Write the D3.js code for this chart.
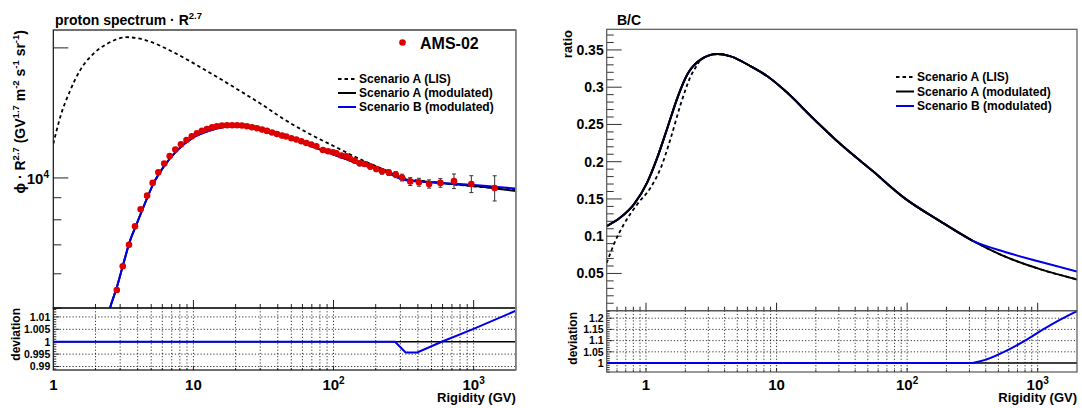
<!DOCTYPE html>
<html>
<head>
<meta charset="utf-8">
<script src="https://cdn.jsdelivr.net/npm/d3@7"></script>
<style>
  body { margin: 0; background: #fff; }
  text { font-family: "Liberation Sans", Arial, Helvetica, sans-serif; font-weight: bold; fill: #000; }
</style>
</head>
<body>
<div id="vis-container"></div>
<script>
const width = 1082,
    height = 408;

// ---- proton spectrum (left) ----
const lisR    = [1, 1.12, 1.32, 1.55, 1.93, 2.41, 3.34, 4.64, 7.2, 11.8, 20.4, 31.6, 43.9, 67.6, 104.8, 153, 226, 316, 515, 2000];
const lisFlux = [11990, 13820, 15930, 17730, 19370, 20420, 21170, 20800, 19540, 17870, 16070, 14710, 13700, 12640, 11770, 11070, 10480, 10000, 9780, 9400];

const modR     = [2.3, 2.54, 2.84, 3.16, 3.53, 3.94, 4.64, 5.17, 6.1, 7.62, 9.99, 13.1, 19.3, 28.4, 43.9, 67.6, 104.8, 153, 226, 316, 515, 938, 2000];
const modAFlux = [4400, 5000, 5580, 6320, 7160, 7830, 8930, 9690, 10590, 11570, 12420, 12880, 13170, 13090, 12530, 11880, 11270, 10770, 10400, 9950, 9770, 9600, 9330];
const modBFlux = [4400, 5000, 5580, 6320, 7160, 7830, 8930, 9690, 10590, 11570, 12420, 12880, 13170, 13090, 12530, 11880, 11270, 10770, 10400, 9905, 9760, 9640, 9450];

const amsR = [2.84, 3.13, 3.47, 3.83, 4.2, 4.67, 5.12, 5.62, 6.19, 6.77, 7.43, 8.15, 8.92, 9.74, 10.6, 11.5, 12.5, 13.6, 14.7, 16.0,
  17.4, 18.9, 20.5, 22.2, 24.1, 26.2, 28.4, 30.9, 33.5, 36.4, 39.5, 42.9, 46.0, 50.0, 54.3, 58.9, 64.0, 69.4, 75.4, 84.1,
  91.4, 99.2, 104.7, 113.7, 123.4, 130.5, 141.6, 153.7, 167, 183, 202, 222, 248, 278, 308, 353, 407, 481, 579, 724, 963, 1413];
const amsFlux = [5505, 6245, 7000, 7730, 8460, 9100, 9740, 10310, 10800, 11240, 11630, 11970, 12240, 12490, 12690, 12850, 12980, 13090, 13170, 13220,
  13240, 13240, 13240, 13220, 13170, 13100, 13030, 12940, 12850, 12740, 12640, 12530, 12470, 12360, 12270, 12160, 12050, 11950, 11840, 11610,
  11530, 11470, 11410, 11270, 11230, 11110, 10970, 10810, 10770, 10630, 10490, 10360, 10290, 10180, 10020, 9810, 9775, 9685, 9740, 9830, 9685, 9480];
const amsRelErr = [0.005, 0.005, 0.005, 0.005, 0.005, 0.005, 0.005, 0.005, 0.005, 0.005, 0.005, 0.005, 0.005, 0.005, 0.005, 0.005, 0.005, 0.005, 0.005, 0.005,
  0.005, 0.005, 0.005, 0.005, 0.005, 0.005, 0.006, 0.006, 0.006, 0.006, 0.007, 0.007, 0.007, 0.007, 0.008, 0.008, 0.008, 0.008, 0.009, 0.01,
  0.01, 0.01, 0.011, 0.011, 0.011, 0.012, 0.012, 0.013, 0.013, 0.014, 0.014, 0.015, 0.015, 0.016, 0.018, 0.021, 0.021, 0.022, 0.023, 0.039, 0.045, 0.067];

const pDevR = [1, 275, 327, 396, 592, 1000, 2000];
const pDevB = [1, 1, 0.9957, 0.9957, 1, 1.0052, 1.0125];

// ---- B/C ratio (right) ----
const bcLisR = [0.5, 0.569, 0.678, 0.858, 1.087, 1.30, 1.55, 1.84, 2.2, 2.47, 2.62, 3.52, 4.45, 6.34, 8.5, 12.1, 18.3, 31.0, 54.2, 97.8, 176, 316, 570, 1026, 2000];
const bcLis  = [0.064, 0.0896, 0.1163, 0.143, 0.1654, 0.192, 0.2322, 0.2767, 0.3147, 0.330, 0.3369, 0.3445, 0.3414, 0.328, 0.3147, 0.2924, 0.2612, 0.2233, 0.1877, 0.1497, 0.1209, 0.0941, 0.0722, 0.0561, 0.042];
const bcR  = [0.5, 0.64, 0.81, 1.02, 1.22, 1.46, 1.74, 2.07, 2.62, 3.52, 4.45, 6.34, 8.5, 12.1, 18.3, 31.0, 54.2, 97.8, 176, 316, 570, 1026, 2000];
const bcA  = [0.1135, 0.1253, 0.143, 0.172, 0.2055, 0.2456, 0.2857, 0.3169, 0.3369, 0.3445, 0.3414, 0.328, 0.3147, 0.2924, 0.2612, 0.2233, 0.1877, 0.1497, 0.1209, 0.0941, 0.0722, 0.0561, 0.042];
const bcB  = [0.1135, 0.1253, 0.143, 0.172, 0.2055, 0.2456, 0.2857, 0.3169, 0.3369, 0.3445, 0.3414, 0.328, 0.3147, 0.2924, 0.2612, 0.2233, 0.1877, 0.1497, 0.1209, 0.0941, 0.0785, 0.066, 0.0527];

const bcDevR = [0.5, 300, 400, 600, 800, 1100, 1500, 2000];
const bcDevB = [1, 1, 1.015, 1.06, 1.1, 1.15, 1.195, 1.232];

const legendLabels = ["Scenario A (LIS)", "Scenario A (modulated)", "Scenario B (modulated)"];

const BLUE = "#0000e6", RED = "#dd0000";

var svg = d3.select("#vis-container").append("svg")
    .attr("width", width)
    .attr("height", height);
svg.append("rect").attr("width", width).attr("height", height).attr("fill", "#fff");

// scales
var lx = d3.scaleLog().domain([1, 2000]).range([53.3, 515.8]);
var ly = d3.scaleLog().domain([5000, 22000]).range([308, 30]);
var ldy = d3.scaleLinear().domain([0.9886, 1.0136]).range([370, 308]);
var rx = d3.scaleLog().domain([0.5, 2000]).range([606.7, 1077]);
var ry = d3.scaleLinear().domain([0, 0.3777]).range([310.7, 29.3]);
var rdy = d3.scaleLinear().domain([0.96, 1.2335]).range([372, 310.7]);

var defs = svg.append("defs");
function clip(id, x, y) {
  defs.append("clipPath").attr("id", id).append("rect")
    .attr("x", x.range()[0]).attr("y", y.range()[1])
    .attr("width", x.range()[1] - x.range()[0]).attr("height", y.range()[0] - y.range()[1]);
}
clip("cL", lx, ly); clip("cLd", lx, ldy); clip("cR", rx, ry); clip("cRd", rx, rdy);

function isDecade(t) { return Math.abs(Math.log10(t) - Math.round(Math.log10(t))) < 1e-6; }

function curve(g, x, y, xs, ys, color, dash, w) {
  var pts = xs.map((d, i) => [d, ys[i]]);
  g.append("path")
    .attr("d", d3.line().x(d => x(d[0])).y(d => y(d[1])).curve(d3.curveMonotoneX)(pts))
    .attr("fill", "none").attr("stroke", color).attr("stroke-width", w || 2)
    .attr("stroke-dasharray", dash || null);
}

// text with superscripts: parts = [[normal, sup], ...]
function richText(text, parts, supSize) {
  var shift = 0;
  parts.forEach(p => {
    text.append("tspan").attr("dy", -shift).text(p[0]);
    shift = 0;
    if (p[1]) {
      text.append("tspan").attr("dy", -6).attr("font-size", supSize).text(p[1]);
      shift = -6;
    }
  });
}

// x axes: ticks on top panel bottom, grid in ratio panel, labels below
function xAxis(x, yMain, yDev, labels) {
  var g = svg.append("g");
  var ticks = x.ticks().filter(t => t > x.domain()[0] * 1.0001 && t < x.domain()[1] * 0.9999);
  ticks.forEach(t => {
    var px = x(t), major = isDecade(t);
    g.append("line").attr("x1", px).attr("x2", px)
      .attr("y1", yDev.range()[1]).attr("y2", yDev.range()[0])
      .attr("stroke", "#000").attr("stroke-width", 0.8).attr("stroke-dasharray", "1.2,2");
    g.append("line").attr("x1", px).attr("x2", px)
      .attr("y1", yMain.range()[0]).attr("y2", yMain.range()[0] - (major ? 8 : 4))
      .attr("stroke", "#222").attr("stroke-width", 1);
    g.append("line").attr("x1", px).attr("x2", px)
      .attr("y1", yDev.range()[0]).attr("y2", yDev.range()[0] - (major ? 4 : 2))
      .attr("stroke", "#222").attr("stroke-width", 1);
  });
  labels.forEach(l => {
    var t = g.append("text").attr("x", x(l.v)).attr("y", 389.5)
      .attr("text-anchor", "middle").attr("font-size", 15);
    if (l.e) richText(t, [["10", l.e]], 10); else t.text(l.b);
  });
  g.append("text").attr("x", x.range()[1]).attr("y", 402)
    .attr("text-anchor", "end").attr("font-size", 13).text("Rigidity (GV)");
}

function yLinAxis(x, y, from, to, div, majorEvery, lenMaj, lenMin, fs, dec, grid) {
  var g = svg.append("g");
  var x0 = x.range()[0];
  for (var i = from; i <= to; i++) {
    var v = i / div, py = y(v), major = (i % majorEvery === 0);
    g.append("line").attr("x1", x0).attr("x2", x0 + (major ? lenMaj : lenMin))
      .attr("y1", py).attr("y2", py).attr("stroke", "#333").attr("stroke-width", 1);
    if (major) {
      g.append("text").attr("x", x0 - 3).attr("y", py + fs * 0.36)
        .attr("text-anchor", "end").attr("font-size", fs).text(String(+v.toFixed(dec)));
      if (grid && Math.abs(v - 1) > 1e-9) {
        g.append("line").attr("x1", x0).attr("x2", x.range()[1]).attr("y1", py).attr("y2", py)
          .attr("stroke", "#000").attr("stroke-width", 0.8).attr("stroke-dasharray", "1.2,2");
      }
    }
  }
}

function frame(x, y, col) {
  svg.append("rect")
    .attr("x", x.range()[0]).attr("y", y.range()[1])
    .attr("width", x.range()[1] - x.range()[0]).attr("height", y.range()[0] - y.range()[1])
    .attr("fill", "none").attr("stroke", col).attr("stroke-width", 1.2);
}

function legend(x0, y0, dy) {
  var g = svg.append("g");
  var styles = [{c: "#000", d: "3.5,3"}, {c: "#000", d: null}, {c: BLUE, d: null}];
  legendLabels.forEach((lab, i) => {
    var yy = y0 + i * dy;
    g.append("line").attr("x1", x0).attr("x2", x0 + 18).attr("y1", yy).attr("y2", yy)
      .attr("stroke", styles[i].c).attr("stroke-width", 2).attr("stroke-dasharray", styles[i].d);
    g.append("text").attr("x", x0 + 21).attr("y", yy + 4.3).attr("font-size", 12).text(lab);
  });
}

// ================= LEFT =================
xAxis(lx, ly, ldy, [{v: 1, b: "1"}, {v: 10, b: "10"}, {v: 100, e: "2"}, {v: 1000, e: "3"}]);

// log y axis of proton panel
ly.ticks().forEach(t => {
  var major = isDecade(t) || t === 20000;
  svg.append("line").attr("x1", lx.range()[0]).attr("x2", lx.range()[0] + (major ? 15 : 8))
    .attr("y1", ly(t)).attr("y2", ly(t)).attr("stroke", "#222").attr("stroke-width", 1);
});
var t4 = svg.append("text").attr("x", 49).attr("y", ly(10000) + 6).attr("text-anchor", "end").attr("font-size", 15);
richText(t4, [["10", "4"]], 10);

yLinAxis(lx, ldy, 989, 1013, 1000, 5, 6, 3, 10.5, 3, true);

var gL = svg.append("g").attr("clip-path", "url(#cL)");
curve(gL, lx, ly, lisR, lisFlux, "#000", "3.5,3", 1.8);
curve(gL, lx, ly, modR, modAFlux, "#000", null, 2);
curve(gL, lx, ly, modR, modBFlux, BLUE, null, 2);

// AMS-02 points with error bars
var pts = amsR.map((r, i) => ({r: r, v: amsFlux[i], e: amsRelErr[i]}));
var eb = gL.append("g").attr("stroke", "#333").attr("stroke-width", 1);
pts.forEach(p => {
  var yl = ly(p.v * (1 - p.e)), yh = ly(p.v * (1 + p.e)), px = lx(p.r);
  eb.append("line").attr("x1", px).attr("x2", px).attr("y1", yl).attr("y2", yh);
  eb.append("line").attr("x1", px - 2).attr("x2", px + 2).attr("y1", yl).attr("y2", yl);
  eb.append("line").attr("x1", px - 2).attr("x2", px + 2).attr("y1", yh).attr("y2", yh);
});
gL.selectAll("circle.ams").data(pts).enter().append("circle")
  .attr("cx", d => lx(d.r)).attr("cy", d => ly(d.v)).attr("r", 3.3).attr("fill", RED);

var gLd = svg.append("g").attr("clip-path", "url(#cLd)");
curve(gLd, lx, ldy, [1, 2000], [1, 1], "#000", null, 1.6);
gLd.append("path")
  .attr("d", d3.line().x(d => lx(d[0])).y(d => ldy(d[1]))(pDevR.map((r, i) => [r, pDevB[i]])))
  .attr("fill", "none").attr("stroke", BLUE).attr("stroke-width", 2);

frame(lx, ly, "#111");
frame(lx, ldy, "#111");
svg.append("line").attr("x1", lx.range()[1]).attr("x2", lx.range()[1]).attr("y1", ly.range()[1]).attr("y2", ldy.range()[0])
  .attr("stroke", "#888").attr("stroke-width", 1.4);

// texts
var ttl = svg.append("text").attr("x", 55).attr("y", 25).attr("font-size", 14);
richText(ttl, [["proton spectrum · R", "2.7"]], 9.5);

var yl = svg.append("text").attr("transform", "translate(25,30) rotate(-90)")
  .attr("text-anchor", "end").attr("font-size", 14);
richText(yl, [["ϕ · R", "2.7"], [" (GV", "1.7"], [" m", "-2"], [" s", "-1"], [" sr", "-1"], [")", null]], 9.5);

svg.append("text").attr("transform", "translate(19.5,308) rotate(-90)")
  .attr("text-anchor", "end").attr("font-size", 12).text("deviation");

svg.append("circle").attr("cx", 402.5).attr("cy", 42.5).attr("r", 3.3).attr("fill", RED);
svg.append("text").attr("x", 420).attr("y", 48.5).attr("font-size", 16).text("AMS-02");
legend(338, 79, 14);

// ================= RIGHT =================
xAxis(rx, ry, rdy, [{v: 1, b: "1"}, {v: 10, b: "10"}, {v: 100, e: "2"}, {v: 1000, e: "3"}]);
yLinAxis(rx, ry, 1, 37, 100, 5, 15, 7, 14, 2, false);
yLinAxis(rx, rdy, 96, 123, 100, 5, 6, 3, 10.5, 2, true);

var gR = svg.append("g").attr("clip-path", "url(#cR)");
curve(gR, rx, ry, bcLisR, bcLis, "#000", "3.5,3", 1.8);
curve(gR, rx, ry, bcR, bcA, "#000", null, 2);
curve(gR, rx, ry, bcR, bcB, BLUE, null, 2);
curve(gR, rx, ry, bcR.slice(0, 20), bcA.slice(0, 20), "#000", null, 2);

var gRd = svg.append("g").attr("clip-path", "url(#cRd)");
curve(gRd, rx, rdy, [0.5, 2000], [1, 1], "#000", null, 1.6);
curve(gRd, rx, rdy, bcDevR, bcDevB, BLUE, null, 2);

frame(rx, ry, "#555");
frame(rx, rdy, "#555");

svg.append("text").attr("x", 617).attr("y", 25).attr("font-size", 14).text("B/C");
svg.append("text").attr("transform", "translate(572,30) rotate(-90)")
  .attr("text-anchor", "end").attr("font-size", 13).text("ratio");
svg.append("text").attr("transform", "translate(577,312) rotate(-90)")
  .attr("text-anchor", "end").attr("font-size", 12).text("deviation");
legend(896, 77, 14.5);
</script>
</body>
</html>
